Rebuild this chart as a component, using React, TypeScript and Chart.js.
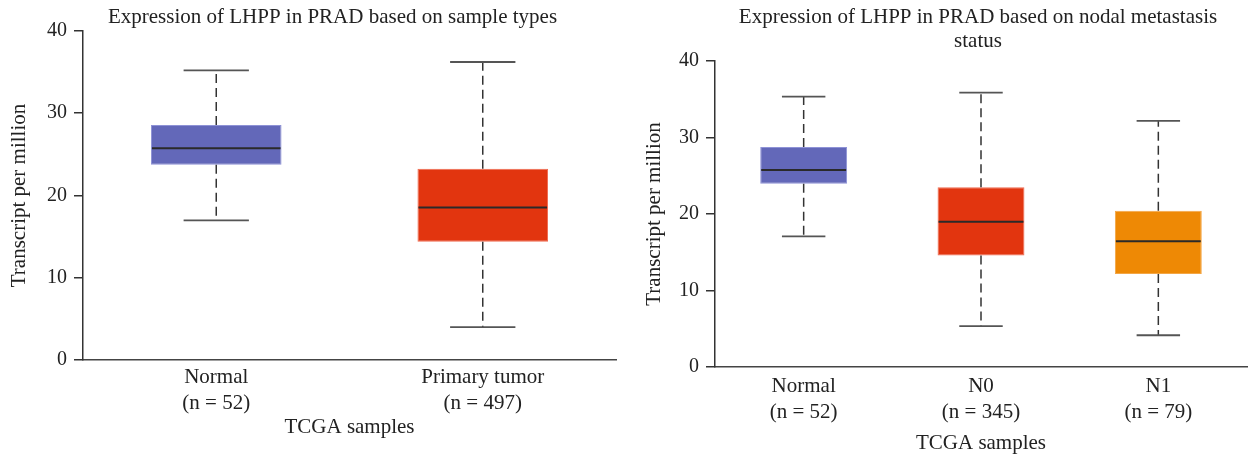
import React, { useEffect, useRef } from "react";
import { Chart, registerables } from "chart.js";

Chart.register(...registerables);

const FONT = "'Liberation Serif', 'Times New Roman', serif";
const TEXT = "#222222";

// ---- Left panel: sample types ----
const typeTitle = "Expression of LHPP in PRAD based on sample types";
const typeCategories = ["Normal", "Primary tumor"];
const typeCounts = ["52", "497"];
const typeMin = [16.97, 3.99];
const typeQ1 = [23.75, 14.38];
const typeMedian = [25.73, 18.55];
const typeQ3 = [28.56, 23.26];
const typeMax = [35.2, 36.23];
const typeColors = ["#6368B9", "#E2350F"];
const typeBorders = ["#8E92D6", "#F06A50"];

// ---- Right panel: nodal metastasis status ----
const nodalTitle = ["Expression of LHPP in PRAD based on nodal metastasis", "status"];
const nodalCategories = ["Normal", "N0", "N1"];
const nodalCounts = ["52", "345", "79"];
const nodalMin = [17.07, 5.33, 4.15];
const nodalQ1 = [23.95, 14.58, 12.17];
const nodalMedian = [25.75, 18.98, 16.45];
const nodalQ3 = [28.76, 23.48, 20.42];
const nodalMax = [35.34, 35.86, 32.16];
const nodalColors = ["#6368B9", "#E2350F", "#EE8905"];
const nodalBorders = ["#8E92D6", "#F06A50", "#F3A645"];

const yMin = 0;
const yMax = 40;
const yStep = 10;
const yTitle = "Transcript per million";
const xTitle = "TCGA samples";

type Panel = {
  title: string | string[];
  categories: string[];
  counts: string[];
  min: number[];
  q1: number[];
  median: number[];
  q3: number[];
  max: number[];
  colors: string[];
  borders: string[];
  left: number;
  width: number;
  yAxisWidth: number;
  rightSpace: number;
  xAxisHeight: number;
  titlePadBottom: number;
  xTickPad: number;
  xTitlePadBottom: number;
};

function makeWhiskerPlugin(p: Panel) {
  return {
    id: "whiskers",
    afterDatasetsDraw(chart: any) {
      const { ctx } = chart;
      const y = chart.scales.y;
      const meta = chart.getDatasetMeta(0);
      ctx.save();
      meta.data.forEach((bar: any, i: number) => {
        const cx = bar.x;
        const w = bar.width;
        const pMin = y.getPixelForValue(p.min[i]);
        const pQ1 = y.getPixelForValue(p.q1[i]);
        const pMed = y.getPixelForValue(p.median[i]);
        const pQ3 = y.getPixelForValue(p.q3[i]);
        const pMax = y.getPixelForValue(p.max[i]);
        // dashed whiskers
        ctx.strokeStyle = "#333333";
        ctx.lineWidth = 1.5;
        ctx.setLineDash([9, 5]);
        ctx.beginPath();
        ctx.moveTo(cx, pQ3);
        ctx.lineTo(cx, pMax);
        ctx.moveTo(cx, pQ1);
        ctx.lineTo(cx, pMin);
        ctx.stroke();
        // caps
        ctx.setLineDash([]);
        ctx.strokeStyle = "#555555";
        ctx.lineWidth = 1.8;
        ctx.beginPath();
        ctx.moveTo(cx - w / 4, pMax);
        ctx.lineTo(cx + w / 4, pMax);
        ctx.moveTo(cx - w / 4, pMin);
        ctx.lineTo(cx + w / 4, pMin);
        ctx.stroke();
        // median
        ctx.strokeStyle = "#2a2a2a";
        ctx.lineWidth = 2;
        ctx.beginPath();
        ctx.moveTo(cx - w / 2 + 1, pMed);
        ctx.lineTo(cx + w / 2 - 1, pMed);
        ctx.stroke();
      });
      ctx.restore();
    },
  };
}

function buildConfig(p: Panel): any {
  const labels = p.categories.map((c, i) => [c, `(n = ${p.counts[i]})`]);
  return {
    type: "bar",
    data: {
      labels,
      datasets: [
        {
          data: p.categories.map((_, i) => [p.q1[i], p.q3[i]]),
          backgroundColor: p.colors,
          borderColor: p.borders,
          borderWidth: 1,
          borderSkipped: false,
          barPercentage: 0.49,
          categoryPercentage: 1,
        },
      ],
    },
    options: {
      responsive: false,
      animation: false,
      devicePixelRatio: 1,
      layout: { padding: 0 },
      events: [],
      plugins: {
        legend: { display: false },
        tooltip: { enabled: false },
        title: {
          display: true,
          text: p.title,
          color: TEXT,
          font: { family: FONT, size: 21, weight: "normal", lineHeight: 1.18 },
          padding: { top: 4.6, bottom: p.titlePadBottom },
        },
      },
      scales: {
        x: {
          type: "category",
          offset: true,
          grid: { display: false },
          border: { display: true, color: "#444444", width: 1.5 },
          ticks: {
            color: TEXT,
            font: { family: FONT, size: 21, lineHeight: 1.21 },
            padding: p.xTickPad,
            maxRotation: 0,
            autoSkip: false,
          },
          title: {
            display: true,
            text: xTitle,
            color: TEXT,
            font: { family: FONT, size: 21, lineHeight: 1.2 },
            padding: { top: 0, bottom: p.xTitlePadBottom },
          },
          afterFit: (s: any) => {
            s.height = p.xAxisHeight;
          },
        },
        y: {
          type: "linear",
          min: yMin,
          max: yMax,
          grid: {
            display: true,
            drawOnChartArea: false,
            drawTicks: true,
            tickLength: 9,
            color: "#333333",
            lineWidth: 1.5,
          },
          border: { display: true, color: "#333333", width: 1.5 },
          ticks: {
            stepSize: yStep,
            color: TEXT,
            font: { family: FONT, size: 20 },
            padding: 7,
          },
          title: {
            display: true,
            text: yTitle,
            color: TEXT,
            font: { family: FONT, size: 21, lineHeight: 1.2 },
            padding: { top: 6.4, bottom: 0 },
          },
          afterFit: (s: any) => {
            s.width = p.yAxisWidth;
          },
        },
        spacer: {
          type: "linear",
          position: "right",
          display: true,
          grid: { display: false },
          border: { display: false },
          ticks: { display: false },
          afterFit: (s: any) => {
            s.width = p.rightSpace;
          },
        },
      },
    },
    plugins: [makeWhiskerPlugin(p)],
  };
}

const leftPanel: Panel = {
  title: typeTitle,
  categories: typeCategories,
  counts: typeCounts,
  min: typeMin,
  q1: typeQ1,
  median: typeMedian,
  q3: typeQ3,
  max: typeMax,
  colors: typeColors,
  borders: typeBorders,
  left: 0,
  width: 665,
  yAxisWidth: 83,
  rightSpace: 49,
  xAxisHeight: 98,
  titlePadBottom: 1.6,
  xTickPad: -3,
  xTitlePadBottom: 18.4,
};

const rightPanel: Panel = {
  title: nodalTitle,
  categories: nodalCategories,
  counts: nodalCounts,
  min: nodalMin,
  q1: nodalQ1,
  median: nodalMedian,
  q3: nodalQ3,
  max: nodalMax,
  colors: nodalColors,
  borders: nodalBorders,
  left: 635,
  width: 686,
  yAxisWidth: 80,
  rightSpace: 74,
  xAxisHeight: 91,
  titlePadBottom: 6.8,
  xTickPad: -1,
  xTitlePadBottom: 1.7,
};

function BoxPanel({ panel }: { panel: Panel }) {
  const ref = useRef<HTMLCanvasElement>(null);
  useEffect(() => {
    if (!ref.current) return;
    const chart = new Chart(ref.current, buildConfig(panel));
    return () => chart.destroy();
  }, [panel]);
  return (
    <canvas
      ref={ref}
      width={panel.width}
      height={458}
      style={{
        position: "absolute",
        left: panel.left,
        top: 0,
        width: panel.width,
        height: 458,
      }}
    />
  );
}

export default function App() {
  return (
    <div
      style={{
        position: "absolute",
        left: 0,
        top: 0,
        width: 1250,
        height: 458,
        overflow: "hidden",
        background: "#ffffff",
      }}
    >
      <BoxPanel panel={leftPanel} />
      <BoxPanel panel={rightPanel} />
    </div>
  );
}
